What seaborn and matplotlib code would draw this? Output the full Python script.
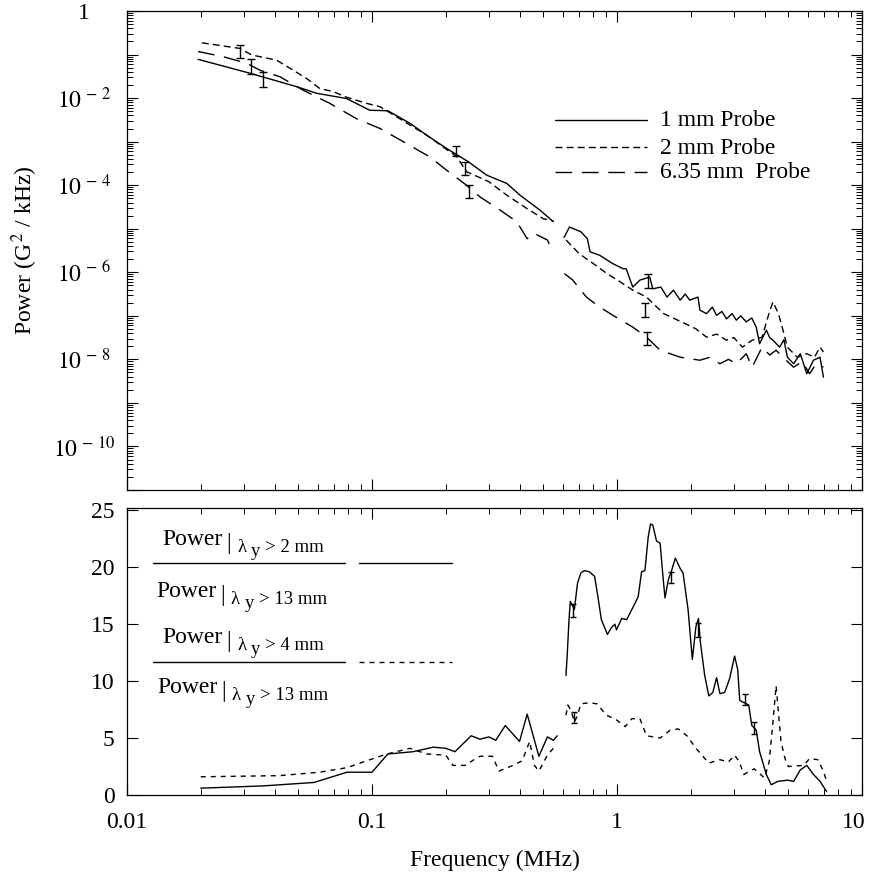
import numpy as np
import matplotlib
matplotlib.use("Agg")
import matplotlib.pyplot as plt
import matplotlib.transforms as mtrans
import seaborn as sns
from matplotlib.ticker import LogLocator, FixedLocator, FuncFormatter, NullFormatter

# ---------------- data ----------------
# Top panel: power spectra, values stored as log10(Power [G^2/kHz])
f_1mm_lo = [0.0195, 0.0318, 0.0494, 0.0595, 0.0787, 0.098, 0.116, 0.143, 0.167, 0.202, 0.247,
            0.294, 0.355, 0.402, 0.484, 0.55]
lp_1mm_lo = [-1.11, -1.43, -1.74, -1.89, -2.01, -2.28, -2.29, -2.58, -2.85, -3.16, -3.46,
             -3.77, -3.96, -4.23, -4.57, -4.84]
f_1mm_hi = [0.608, 0.64, 0.712, 0.757, 0.776, 0.85, 0.96, 1.06, 1.09, 1.16, 1.24, 1.36, 1.40, 1.51,
            1.60, 1.70, 1.81, 1.90, 1.98, 2.14, 2.18, 2.32, 2.45, 2.55, 2.68, 2.80, 2.95, 3.07,
            3.20, 3.37, 3.55, 3.70, 3.82, 4.07, 4.20, 4.33, 4.61, 4.80, 4.96, 5.26, 5.60, 5.95,
            6.34, 6.74, 6.96]
lp_1mm_hi = [-5.20, -4.96, -5.07, -5.23, -5.53, -5.61, -5.80, -5.92, -5.92, -6.34, -6.18, -6.11,
             -6.38, -6.34, -6.57, -6.41, -6.64, -6.50, -6.64, -6.57, -6.87, -6.95, -6.80, -6.99,
             -6.90, -7.07, -6.95, -7.10, -7.00, -7.14, -7.05, -7.26, -7.64, -7.33, -7.50, -7.56,
             -7.72, -7.55, -7.95, -8.10, -7.87, -8.33, -8.02, -7.95, -8.41]

f_2mm_lo = [0.0202, 0.0289, 0.0323, 0.0408, 0.0477, 0.0541, 0.0612, 0.0694, 0.0787, 0.095, 0.108,
            0.126, 0.143, 0.167, 0.195, 0.222, 0.243, 0.30, 0.355, 0.43, 0.50, 0.55]
lp_2mm_lo = [-0.73, -0.86, -1.01, -1.13, -1.36, -1.55, -1.78, -1.85, -1.98, -2.12, -2.20,
             -2.43, -2.62, -2.85, -3.12, -3.35, -3.69, -3.92, -4.23, -4.54, -4.77, -4.82]
f_2mm_hi = [0.62, 0.70, 0.80, 0.91, 1.03, 1.16, 1.32, 1.55, 1.90, 2.10, 2.32, 2.55, 2.80, 3.00,
            3.25, 3.56, 3.91, 4.17, 4.33, 4.56, 4.80, 4.96, 5.44, 5.95, 6.40, 6.74, 6.96]
lp_2mm_hi = [-5.26, -5.57, -5.80, -6.03, -6.22, -6.41, -6.57, -6.95, -7.18, -7.30, -7.49, -7.42,
             -7.56, -7.50, -7.72, -7.56, -7.49, -6.95, -6.68, -6.95, -7.41, -7.72, -7.95, -7.87,
             -7.95, -7.72, -7.83]

f_635_lo = [0.0195, 0.0247, 0.0308, 0.0349, 0.0421, 0.0524, 0.0672, 0.0862, 0.108, 0.138, 0.172,
            0.202, 0.243, 0.276, 0.333, 0.39, 0.43, 0.46, 0.52, 0.54]
lp_635_lo = [-0.93, -1.05, -1.20, -1.36, -1.51, -1.82, -2.12, -2.47, -2.70, -3.04, -3.35,
             -3.66, -4.00, -4.27, -4.57, -4.84, -5.23, -5.11, -5.26, -5.46]
f_635_hi = [0.61, 0.66, 0.75, 0.85, 0.99, 1.16, 1.32, 1.50, 1.81, 2.18, 2.40, 2.63, 2.85, 3.07,
            3.37, 3.56, 3.91, 4.20, 4.46, 4.85, 5.26, 5.70, 6.11, 6.50, 6.96]
lp_635_hi = [-6.03, -6.18, -6.57, -6.80, -7.03, -7.26, -7.49, -7.79, -7.95, -8.02, -7.95, -8.10,
             -8.00, -8.10, -7.87, -8.18, -7.72, -7.90, -7.79, -8.00, -8.18, -8.05, -8.33, -8.10,
             -8.18]

# error bars (centre log10 value, half-width in decades)
eb_1mm_f = [0.036, 0.22, 1.34]
eb_1mm_c = [-1.57, -3.22, -6.20]
eb_1mm_h = [0.17, 0.12, 0.17]
eb_2mm_f = [0.029, 0.24, 1.30]
eb_2mm_c = [-0.93, -3.62, -6.87]
eb_2mm_h = [0.15, 0.15, 0.16]
eb_635_f = [0.032, 0.25, 1.32]
eb_635_c = [-1.27, -4.15, -7.53]
eb_635_h = [0.17, 0.15, 0.15]

# Bottom panel: power ratios
f_r2_lo = [0.02, 0.036, 0.058, 0.079, 0.1, 0.116, 0.147, 0.178, 0.2, 0.218, 0.254, 0.276, 0.30,
           0.32, 0.35, 0.40, 0.43, 0.48, 0.52, 0.55, 0.57]
r2_lo = [0.6, 0.8, 1.1, 2.0, 2.0, 3.6, 3.8, 4.2, 4.1, 3.8, 5.2, 4.9, 5.1, 4.8, 6.1, 4.7, 7.1,
         3.4, 5.1, 4.8, 5.2]
f_r2_hi = [0.619, 0.626, 0.637, 0.645, 0.67, 0.69, 0.712, 0.735, 0.771, 0.81, 0.836, 0.863,
           0.914, 0.95, 0.98, 0.995, 1.045, 1.095, 1.163, 1.22, 1.26, 1.30, 1.34, 1.37, 1.40,
           1.45, 1.50, 1.54, 1.57, 1.62, 1.67, 1.73, 1.81, 1.86, 1.95, 2.03, 2.10, 2.15, 2.19,
           2.28, 2.37, 2.46, 2.55, 2.63, 2.75, 2.88, 3.02, 3.11, 3.17, 3.45, 3.55, 3.70, 3.82,
           4.07, 4.26, 4.54, 4.96, 5.26, 5.60, 5.95, 6.34, 6.74, 7.17]
r2_hi = [10.5, 12.2, 15.4, 17.0, 16.3, 18.6, 19.5, 19.7, 19.6, 19.2, 17.4, 15.4, 14.1, 14.7,
         15.0, 14.5, 15.5, 15.4, 16.5, 17.4, 19.6, 19.7, 22.6, 23.8, 23.7, 22.3, 22.1, 19.2,
         17.3, 18.9, 19.7, 20.8, 19.9, 19.5, 16.3, 11.9, 14.8, 15.5, 13.4, 10.5, 8.7, 9.0,
         10.3, 8.9, 9.0, 10.2, 12.2, 11.0, 8.3, 7.9, 6.1, 5.7, 3.8, 1.8, 0.9, 1.2, 1.3, 1.2,
         2.2, 2.6, 1.8, 1.2, 0.3]

f_r4_lo = [0.02, 0.042, 0.061, 0.079, 0.095, 0.115, 0.143, 0.167, 0.2, 0.214, 0.24, 0.265,
           0.276, 0.31, 0.33, 0.376, 0.41, 0.44, 0.46, 0.48, 0.52, 0.56]
r4_lo = [1.6, 1.7, 2.0, 2.4, 3.0, 3.6, 4.1, 3.6, 3.5, 2.6, 2.6, 3.2, 3.4, 3.4, 2.1, 2.6, 3.0,
         4.7, 2.6, 2.1, 3.5, 4.3]
f_r4_hi = [0.619, 0.63, 0.65, 0.67, 0.69, 0.712, 0.771, 0.83, 0.905, 0.98, 1.08, 1.15, 1.24,
           1.32, 1.50, 1.65, 1.78, 1.93, 2.10, 2.37, 2.63, 2.85, 3.02, 3.16, 3.29, 3.63, 4.0,
           4.18, 4.33, 4.46, 4.57, 4.67, 4.85, 5.0, 5.78, 6.11, 6.6, 6.96, 7.17]
r4_hi = [7.0, 7.9, 7.4, 6.4, 7.0, 8.0, 8.1, 8.0, 7.0, 6.7, 6.0, 6.7, 6.7, 5.2, 5.0, 5.7, 5.8,
         5.2, 4.1, 2.8, 3.1, 2.9, 3.5, 2.9, 1.8, 2.3, 1.5, 2.9, 6.4, 9.6, 7.0, 4.7, 3.2, 2.5,
         2.6, 3.2, 3.1, 2.1, 1.2]

eb_r2_f = [0.66, 1.66, 2.15, 3.33, 3.63]
eb_r2_v = [16.2, 19.1, 14.5, 8.4, 5.9]
eb_r2_e = [0.6, 0.5, 0.6, 0.5, 0.5]
eb_r4_f = [0.67]
eb_r4_v = [6.8]
eb_r4_e = [0.5]

x_ticks = [0.01, 0.1, 1, 10]
x_ticklabels = ["0.01", "0.1", "1", "10"]
ratio_ticks = [0, 5, 10, 15, 20, 25]
legend_top = ["1 mm Probe", "2 mm Probe", "6.35 mm  Probe"]

# ---------------- style ----------------
sns.set_theme(style="ticks")
plt.rcParams['font.family'] = ['Liberation Serif', 'DejaVu Serif']
plt.rcParams['mathtext.fontset'] = 'stix'
plt.rcParams['text.color'] = 'black'
plt.rcParams['axes.edgecolor'] = 'black'
plt.rcParams['axes.labelcolor'] = 'black'
plt.rcParams['xtick.color'] = 'black'
plt.rcParams['ytick.color'] = 'black'
plt.rcParams['axes.linewidth'] = 0.9

FS = 17
LW = 1.0
SOLID = '-'
DOT = (0, (5, 3))
LDASH = (0, (12, 7))
SDASH = (0, (3.6, 3.6))

fig = plt.figure(figsize=(8.7, 8.85), dpi=100)
W, H = 870, 885
L, R = 127, 862


def axes_rect(top_px, bot_px):
    return [L / W, 1 - bot_px / H, (R - L) / W, (bot_px - top_px) / H]


ax1 = fig.add_axes(axes_rect(11, 490))
ax2 = fig.add_axes(axes_rect(508, 795))


def line(ax, x, y, ls):
    sns.lineplot(x=x, y=y, ax=ax, color='black', linewidth=LW, linestyle=ls,
                 estimator=None, sort=False, legend=False)


# ---------------- top panel ----------------
ax1.set_xscale('log')
ax1.set_yscale('log')
for f, lp, ls in [(f_1mm_lo, lp_1mm_lo, SOLID), (f_1mm_hi, lp_1mm_hi, SOLID),
                  (f_2mm_lo, lp_2mm_lo, DOT), (f_2mm_hi, lp_2mm_hi, DOT),
                  (f_635_lo, lp_635_lo, LDASH), (f_635_hi, lp_635_hi, LDASH)]:
    line(ax1, f, [10.0 ** v for v in lp], ls)

for f, c, h in [(eb_1mm_f, eb_1mm_c, eb_1mm_h), (eb_2mm_f, eb_2mm_c, eb_2mm_h),
                (eb_635_f, eb_635_c, eb_635_h)]:
    c = np.array(c); h = np.array(h)
    mid = 10.0 ** c
    lo = mid - 10.0 ** (c - h)
    hi = 10.0 ** (c + h) - mid
    ax1.errorbar(f, mid, yerr=[lo, hi], fmt='none', ecolor='black', elinewidth=1.0,
                 capsize=3, capthick=1.0)

ax1.set_xlim(0.01, 10)
ax1.set_ylim(1e-11, 1.0)
ax1.xaxis.set_major_locator(FixedLocator(x_ticks))
ax1.xaxis.set_minor_locator(LogLocator(base=10, subs=np.arange(2, 10), numticks=20))
ax1.xaxis.set_major_formatter(NullFormatter())
ax1.xaxis.set_minor_formatter(NullFormatter())
ax1.yaxis.set_major_locator(LogLocator(base=10, numticks=30))
ax1.yaxis.set_minor_locator(LogLocator(base=10, subs=np.arange(2, 10), numticks=30))


def yfmt(v, pos):
    e = int(round(np.log10(v)))
    if e % 2 != 0:
        return ""
    if e == 0:
        return "1"
    return r"$10^{\,-\,%d}$" % (-e)


ax1.yaxis.set_major_formatter(FuncFormatter(yfmt))
ax1.yaxis.set_minor_formatter(NullFormatter())
ax1.tick_params(axis='both', which='both', direction='in', top=True, right=True)
ax1.tick_params(which='major', length=8, width=0.8)
ax1.tick_params(which='minor', length=4, width=0.7)
ax1.tick_params(axis='y', which='major', labelsize=FS, pad=31)
for t in ax1.get_yticklabels():
    t.set_horizontalalignment('center')
ax1.set_ylabel("Power (G$^{\\,2}$ / kHz)", fontsize=FS)
ax1.yaxis.set_label_coords(-(L - 40) / (R - L), 0.5)
ax1.set_xlabel("")


def px_ax1(px, py):
    return ((px - L) / (R - L), (490 - py) / (490 - 11))


for (ly, lab, ls) in [(120, legend_top[0], SOLID), (147, legend_top[1], DOT),
                      (172, legend_top[2], LDASH)]:
    x0, y0 = px_ax1(555, ly)
    x1, _ = px_ax1(647, ly)
    ax1.plot([x0, x1], [y0, y0], transform=ax1.transAxes, color='black', lw=LW, ls=ls)
    tx, ty = px_ax1(660, ly + 6.5)
    ax1.text(tx, ty, lab, transform=ax1.transAxes, fontsize=FS, ha='left', va='baseline')

# ---------------- bottom panel ----------------
ax2.set_xscale('log')
for f, v, ls in [(f_r2_lo, r2_lo, SOLID), (f_r2_hi, r2_hi, SOLID),
                 (f_r4_lo, r4_lo, SDASH), (f_r4_hi, r4_hi, SDASH)]:
    line(ax2, f, v, ls)
ax2.errorbar(eb_r2_f, eb_r2_v, yerr=eb_r2_e, fmt='none', ecolor='black', elinewidth=1.0,
             capsize=2, capthick=1.0)
ax2.errorbar(eb_r4_f, eb_r4_v, yerr=eb_r4_e, fmt='none', ecolor='black', elinewidth=1.0,
             capsize=2, capthick=1.0)

ax2.set_xlim(0.01, 10)
ax2.set_ylim(0, 25.2)
ax2.xaxis.set_major_locator(FixedLocator(x_ticks))
ax2.xaxis.set_minor_locator(LogLocator(base=10, subs=np.arange(2, 10), numticks=20))
ax2.set_xticklabels(x_ticklabels)
ax2.xaxis.set_minor_formatter(NullFormatter())
ax2.yaxis.set_major_locator(FixedLocator(ratio_ticks))
ax2.set_yticklabels([str(t) for t in ratio_ticks])
ax2.tick_params(axis='both', which='both', direction='in', top=True, right=True)
ax2.tick_params(which='major', length=8, width=0.8, labelsize=FS)
ax2.tick_params(which='minor', length=4, width=0.7)
ax2.tick_params(axis='x', which='major', pad=12)
ax2.tick_params(axis='y', which='major', pad=9)
ax2.set_xlabel("Frequency (MHz)", fontsize=FS, labelpad=12)
ax2.set_ylabel("")

# keep the last x label ("10") inside the figure, as in the reference
last = ax2.xaxis.get_major_ticks()[-1].label1
last.set_transform(last.get_transform() + mtrans.ScaledTranslation(-6 / 72, 0, fig.dpi_scale_trans))


def px_ax2(px, py):
    return ((px - L) / (R - L), (795 - py) / (795 - 508))


def ratio_label(end_px, base_py, sub):
    x, y = px_ax2(end_px, base_py)
    kw = dict(xycoords='axes fraction', textcoords='offset pixels', va='baseline')
    ax2.annotate("Power", xy=(x, y), xytext=(0, 0), ha='right', fontsize=FS, **kw)
    ax2.annotate("|", xy=(x, y), xytext=(3, -4), ha='left', fontsize=FS, **kw)
    ax2.annotate("\u03bb", xy=(x, y), xytext=(14, -7), ha='left', fontsize=13.5, **kw)
    ax2.annotate("y", xy=(x, y), xytext=(28, -11), ha='left', fontsize=13.5, **kw)
    ax2.annotate(sub, xy=(x, y), xytext=(42, -7), ha='left', fontsize=13.5, **kw)


ratio_label(223, 545, "> 2 mm")
ratio_label(217, 597, "> 13 mm")
ratio_label(223, 643, "> 4 mm")
ratio_label(218, 693, "> 13 mm")

for (py, ls) in [(563, SOLID), (662, SDASH)]:
    x0, y0 = px_ax2(153, py)
    x1, _ = px_ax2(345, py)
    ax2.plot([x0, x1], [y0, y0], transform=ax2.transAxes, color='black', lw=LW)
    s0, _ = px_ax2(359, py)
    s1, _ = px_ax2(452, py)
    ax2.plot([s0, s1], [y0, y0], transform=ax2.transAxes, color='black', lw=LW, ls=ls)

fig.savefig("out.png", dpi=100)
